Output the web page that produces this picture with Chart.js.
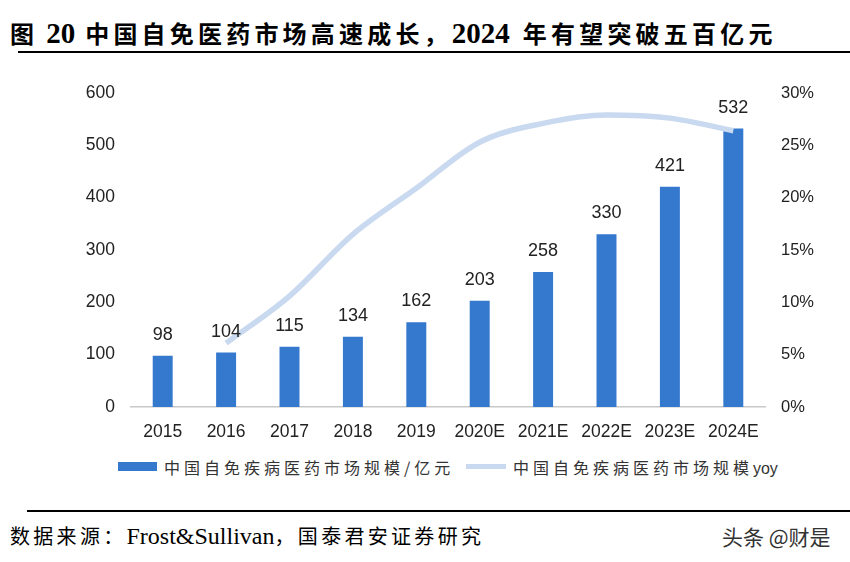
<!DOCTYPE html>
<html>
<head>
<meta charset="utf-8">
<script src="https://cdn.jsdelivr.net/npm/chart.js@4/dist/chart.umd.min.js"></script>
<style>
  html, body { margin: 0; padding: 0; background: #fff; }
  body { width: 850px; height: 562px; position: relative; overflow: hidden; }
  .title { position: absolute; left: 10px; top: 15px; white-space: nowrap; color: #000; line-height: 34px; }
  .title .cj { font: bold 24px "Noto Sans CJK SC", sans-serif; letter-spacing: 4.2px; }
  .title .num { font: bold 29px "Liberation Serif", serif; }
  .rule { position: absolute; height: 2px; background: #000; }
  #wrap { position: absolute; left: 0; top: 60px; width: 850px; height: 387px; }
  .legend {
    position: absolute; top: 452px; left: 118px; white-space: nowrap;
    font: 16px "Noto Sans CJK SC", sans-serif; color: #333; letter-spacing: 4px;
  }
  .legend span.box { display: inline-block; vertical-align: middle; margin-right: 7px; }
  .legend span.txt { vertical-align: middle; }
  .legend .yoy { font-family: "Liberation Sans", Arial, sans-serif; letter-spacing: 0; }
  .source { position: absolute; left: 10px; top: 521px; white-space: nowrap; color: #000; line-height: 28px; }
  .source .cj { font: 20px "Noto Sans CJK SC", sans-serif; letter-spacing: 3.3px; }
  .source .en { font: 24px "Liberation Serif", serif; }
  .mark {
    position: absolute; left: 722px; top: 521px; white-space: nowrap;
    font: 21px "Noto Sans CJK SC", sans-serif; color: #333;
  }
</style>
</head>
<body>
<div class="title"><span class="cj">图</span><span class="num" style="margin-left:8px">20</span><span class="cj" style="margin-left:10px">中国自免医药市场高速成长，</span><span class="num">2024</span><span class="cj" style="margin-left:13px">年有望突破五百亿元</span></div>
<div class="rule" style="left:18px; top:51px; width:832px;"></div>
<div id="wrap"><canvas id="chart"></canvas></div>
<div class="legend">
  <span class="box" style="width:39px;height:9px;background:#3579CF;"></span><span class="txt">中国自免疾病医药市场规模/亿元</span>
  <span class="box" style="width:40px;height:5px;background:#C9D9EF;margin-left:4px;"></span><span class="txt">中国自免疾病医药市场规模<span class="yoy">yoy</span></span>
</div>
<div class="rule" style="left:27px; top:510px; width:823px;"></div>
<div class="source"><span class="cj">数据来源：</span><span class="en">Frost&amp;Sullivan</span><span class="cj">，国泰君安证券研究</span></div>
<div class="mark">头条 @财是</div>

<script>
// --- Data ---
const years = ['2015', '2016', '2017', '2018', '2019', '2020E', '2021E', '2022E', '2023E', '2024E'];
const marketSize = [98, 104, 115, 134, 162, 203, 258, 330, 421, 532];
const marketYoy = [null, 6.1, 10.6, 16.5, 20.9, 25.3, 27.1, 27.9, 27.6, 26.4];
const leftTicks = [0, 100, 200, 300, 400, 500, 600];
const rightTicks = [0, 5, 10, 15, 20, 25, 30];

const BAR_COLOR = '#3579CF';
const LINE_COLOR = '#C9D9EF';
const TEXT_COLOR = '#222';
const FONT = "'Liberation Sans', Arial, sans-serif";

// bar value labels
const barLabels = {
    id: 'barLabels',
    afterDatasetsDraw(chart) {
        const ctx = chart.ctx;
        const meta = chart.getDatasetMeta(1);
        ctx.save();
        ctx.font = '18px ' + FONT;
        ctx.fillStyle = TEXT_COLOR;
        ctx.textAlign = 'center';
        ctx.textBaseline = 'middle';
        meta.data.forEach((bar, i) => {
            ctx.fillText(marketSize[i], bar.x, bar.y - 21);
        });
        ctx.restore();
    }
};

const ctx = document.getElementById('chart').getContext('2d');
new Chart(ctx, {
    data: {
        labels: years,
        datasets: [
            {
                type: 'line',
                label: '中国自免疾病医药市场规模yoy',
                data: marketYoy,
                yAxisID: 'y1',
                borderColor: LINE_COLOR,
                borderWidth: 5.5,
                pointRadius: 0,
                tension: 0.4,
                cubicInterpolationMode: 'monotone',
                order: 0
            },
            {
                type: 'bar',
                label: '中国自免疾病医药市场规模/亿元',
                data: marketSize,
                yAxisID: 'y',
                backgroundColor: BAR_COLOR,
                categoryPercentage: 1,
                barPercentage: 0.315,
                order: 1
            }
        ]
    },
    options: {
        responsive: true,
        maintainAspectRatio: false,
        animation: false,
        layout: { padding: { top: 33, left: 0, right: 0, bottom: 0 } },
        plugins: { legend: { display: false }, tooltip: { enabled: false } },
        scales: {
            x: {
                grid: { display: false, drawTicks: false },
                border: { display: true, color: '#C8C8C8', width: 1.5 },
                ticks: { color: TEXT_COLOR, font: { family: FONT, size: 17.5 }, padding: 15, maxRotation: 0 },
                afterFit(axis) { axis.height = 40; }
            },
            y: {
                position: 'left',
                min: 0, max: 600,
                grid: { display: false, drawTicks: false },
                border: { display: false },
                afterBuildTicks(axis) { axis.ticks = leftTicks.map(v => ({ value: v })); },
                ticks: { color: TEXT_COLOR, font: { family: FONT, size: 17.5 }, padding: 16 },
                afterFit(axis) { axis.width = 131; }
            },
            y1: {
                position: 'right',
                min: 0, max: 30,
                grid: { display: false, drawTicks: false },
                border: { display: false },
                afterBuildTicks(axis) { axis.ticks = rightTicks.map(v => ({ value: v })); },
                ticks: { color: TEXT_COLOR, font: { family: FONT, size: 16.5 }, padding: 16, callback: v => v + '%' },
                afterFit(axis) { axis.width = 85; }
            }
        }
    },
    plugins: [barLabels]
});
</script>
</body>
</html>
